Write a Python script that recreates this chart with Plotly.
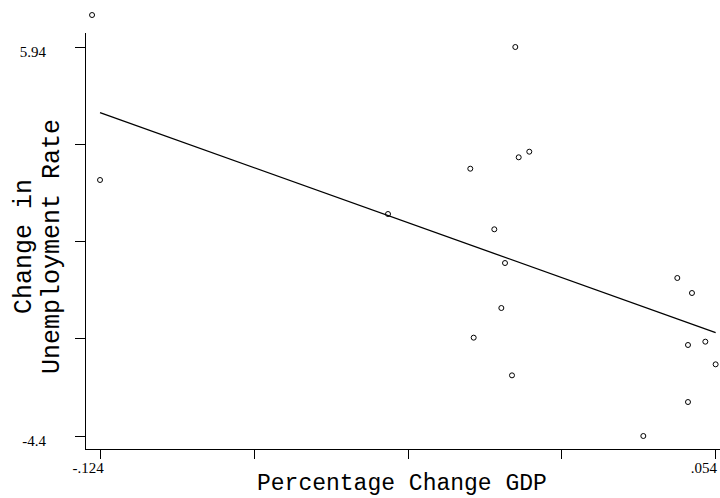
import numpy as np
import plotly.graph_objects as go

# Percentage change in GDP (x) and change in unemployment rate (y)
gdp_change = [-0.124, -0.00399, -0.00301, 0.00005, -0.0170, -0.04078, -0.01006, -0.00697,
              0.04282, 0.04706, -0.00803, -0.01602, 0.05092, 0.04591, 0.0539, -0.00495,
              0.04591, 0.0330]
unemp_change = [2.405, 5.94, 3.008, 3.157, 2.705, 1.501, 1.094, 0.198,
                -0.200, -0.599, -0.998, -1.786, -1.893, -1.981, -2.495, -2.788,
                -3.497, -4.40]

# stray legend-like symbol above the plot area
legend_x = [-0.1263]
legend_y = [6.79]

x_tickvals = [-0.124, -0.0795, -0.035, 0.0095, 0.054]
x_ticktext = ['-.124', '', '', '', '.054']
y_tickvals = [5.94, 3.355, 0.77, -1.815, -4.4]
y_ticktext = ['5.94', '', '', '', '-4.4']

x_title = "Percentage Change GDP"
y_title_lines = ["Change in", "Unemployment Rate"]

x_arr = np.array(gdp_change)
y_arr = np.array(unemp_change)
slope, intercept = np.polyfit(x_arr, y_arr, 1)
fit_x = np.array([x_arr.min(), x_arr.max()])
fit_y = intercept + slope * fit_x

# geometry
W, H = 720, 498
ML, MB, MT = 86, 49, 0
plot_h = H - MB - MT          # 449
main_h = 416                  # height of the framed plot area
y_lo, y_hi = -4.7456, 6.312
px_per_unit = main_h / (y_hi - y_lo)
d = main_h / plot_h
y2_hi = y_hi + (plot_h - main_h) / px_per_unit

fig = go.Figure()
fig.add_trace(go.Scatter(
    x=fit_x, y=fit_y, mode='lines',
    line=dict(color='black', width=1.3), showlegend=False, hoverinfo='skip'))
fig.add_trace(go.Scatter(
    x=gdp_change, y=unemp_change, mode='markers',
    marker=dict(symbol='circle-open', size=5, color='black', line=dict(width=1, color='black')),
    showlegend=False, cliponaxis=False))
fig.add_trace(go.Scatter(
    x=legend_x, y=legend_y, mode='markers', yaxis='y2',
    marker=dict(symbol='circle-open', size=5, color='black', line=dict(width=1, color='black')),
    showlegend=False, cliponaxis=False))

tick_font = dict(family='Liberation Serif', size=15, color='black')
xtitle_font = dict(family='Liberation Mono', size=23, color='black')
ytitle_font = dict(family='Liberation Mono', size=25, color='black')

fig.update_layout(
    width=W, height=H,
    margin=dict(l=ML, r=0, t=MT, b=MB, pad=0),
    paper_bgcolor='white', plot_bgcolor='white',
    font=tick_font,
    xaxis=dict(
        range=[-0.12805, 0.05516], tickvals=x_tickvals, ticktext=x_ticktext,
        ticks='outside', ticklen=9, tickwidth=1, tickcolor='black',
        showline=True, linecolor='black', linewidth=1, mirror=False,
        showgrid=False, zeroline=False, tickfont=tick_font,
        ticklabelshift=-12, ticklabelstandoff=-4),
    yaxis=dict(
        domain=[0, d],
        range=[y_lo, y_hi], tickvals=y_tickvals, ticktext=y_ticktext,
        ticks='outside', ticklen=10, tickwidth=1, tickcolor='black',
        showline=True, linecolor='black', linewidth=1, mirror=False,
        showgrid=False, zeroline=False, tickfont=tick_font,
        ticklabelshift=5, ticklabelstandoff=26),
    yaxis2=dict(
        domain=[d, 1], anchor='x', range=[y_hi, y2_hi], visible=False),
    annotations=[
        dict(text=x_title, xref='paper', yref='paper', x=0.5, y=0,
             xanchor='center', yanchor='middle', xshift=-1.5, yshift=-35,
             showarrow=False, font=xtitle_font),
        dict(text=y_title_lines[0], xref='paper', yref='y domain', x=0, y=0.5,
             xanchor='center', yanchor='middle', xshift=-62, yshift=-6,
             textangle=-90, showarrow=False, font=ytitle_font),
        dict(text=y_title_lines[1], xref='paper', yref='y domain', x=0, y=0.5,
             xanchor='center', yanchor='middle', xshift=-34, yshift=-6,
             textangle=-90, showarrow=False, font=ytitle_font),
    ],
)

fig.write_html(
    "out.html",
    config={'displayModeBar': False},
    post_script="document.body.style.margin='0';document.body.style.overflow='hidden';")
